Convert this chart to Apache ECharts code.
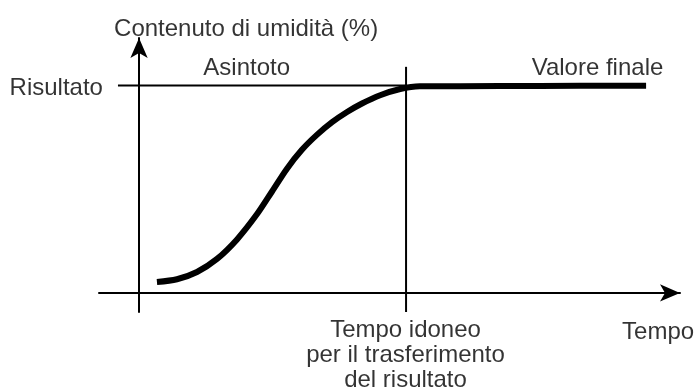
<!DOCTYPE html>
<html>
<head>
<meta charset="utf-8">
<script src="https://cdn.jsdelivr.net/npm/echarts@6/dist/echarts.min.js"></script>
<style>
html,body{margin:0;padding:0;background:#fff;}
#chart{width:697px;height:390px;}
</style>
</head>
<body>
<div id="chart"></div>
<script>
// Schematic data (time units: 10 = suitable time; moisture %: 100 = result)
var curveTime     = [0.67, 1.42, 2.17, 2.92, 3.67, 4.42, 4.98, 5.54, 6.10, 6.67, 7.23, 7.79, 8.35, 9.03, 9.78, 10.52, 13.52, 16.52, 18.99];
var curveMoisture = [5.3, 6.6, 10.1, 16.4, 25.8, 38.0, 48.9, 59.9, 69.0, 76.3, 82.3, 87.2, 91.3, 95.3, 98.3, 99.6, 99.7, 99.9, 99.9];

var resultValue = 100;
var asymptoteStart = -0.79;
var suitableTime = 10;
var suitableLineTop = 109;

var xMin = -1.5, xMax = 20.26;
var yMin = -9.2, yMax = 122.9;

var yAxisTitle = 'Contenuto di umidità (%)';
var xAxisTitle = 'Tempo';
var resultLabel = 'Risultato';
var asymptoteLabel = 'Asintoto';
var finalLabel = 'Valore finale';
var suitableLabel = 'Tempo idoneo\nper il trasferimento\ndel risultato';

// annotation anchors (label centres, in axis units)
var annotations = [
  { at: [4.01, 127.2], text: yAxisTitle },
  { at: [4.03, 108.2], text: asymptoteLabel },
  { at: [17.17, 108.4], text: finalLabel },
  { at: [-3.1, 98.6], text: resultLabel },
  { at: [9.98, -29.9], text: suitableLabel },
  { at: [19.44, -19.0], text: xAxisTitle }
];

var FONT = '"Liberation Sans", Arial, sans-serif';
var FS = 24;

var curve = curveTime.map(function (t, i) { return [t, curveMoisture[i]]; });

var chart = echarts.init(document.getElementById('chart'), null, { renderer: 'canvas' });
chart.setOption({
  animation: false,
  backgroundColor: '#fff',
  grid: { left: 99, right: 17, top: 38, bottom: 78, containLabel: false },
  xAxis: {
    type: 'value', min: xMin, max: xMax,
    axisLine: { show: true, onZero: true, symbol: ['none', 'arrow'], symbolSize: [13, 20],
      lineStyle: { color: '#000', width: 2 } },
    axisTick: { show: false }, axisLabel: { show: false }, splitLine: { show: false }
  },
  yAxis: {
    type: 'value', min: yMin, max: yMax,
    axisLine: { show: true, onZero: true, symbol: ['none', 'arrow'], symbolSize: [13, 20],
      lineStyle: { color: '#000', width: 2 } },
    axisTick: { show: false }, axisLabel: { show: false }, splitLine: { show: false }
  },
  series: [
    {
      type: 'line', name: 'asintoto', symbol: 'none', silent: true,
      data: [[asymptoteStart, resultValue], [suitableTime, resultValue]],
      lineStyle: { color: '#000', width: 2 }, z: 2
    },
    {
      type: 'line', name: 'tempo idoneo', symbol: 'none', silent: true,
      data: [[suitableTime, yMin], [suitableTime, suitableLineTop]],
      lineStyle: { color: '#000', width: 2 }, z: 2
    },
    {
      type: 'line', name: 'umidità', symbol: 'none', smooth: 0.3, silent: true,
      data: curve,
      lineStyle: { color: '#000', width: 6, cap: 'butt', join: 'round' }, z: 3
    },
    {
      type: 'scatter', symbolSize: 0, clip: false, silent: true,
      itemStyle: { color: 'transparent' },
      label: { show: true, position: 'inside', color: '#000', fontFamily: FONT, fontSize: FS,
        lineHeight: 25, align: 'center', verticalAlign: 'middle',
        formatter: function (p) { return p.data.name; } },
      data: annotations.map(function (a) { return { value: a.at, name: a.text }; })
    }
  ]
});
</script>
</body>
</html>
